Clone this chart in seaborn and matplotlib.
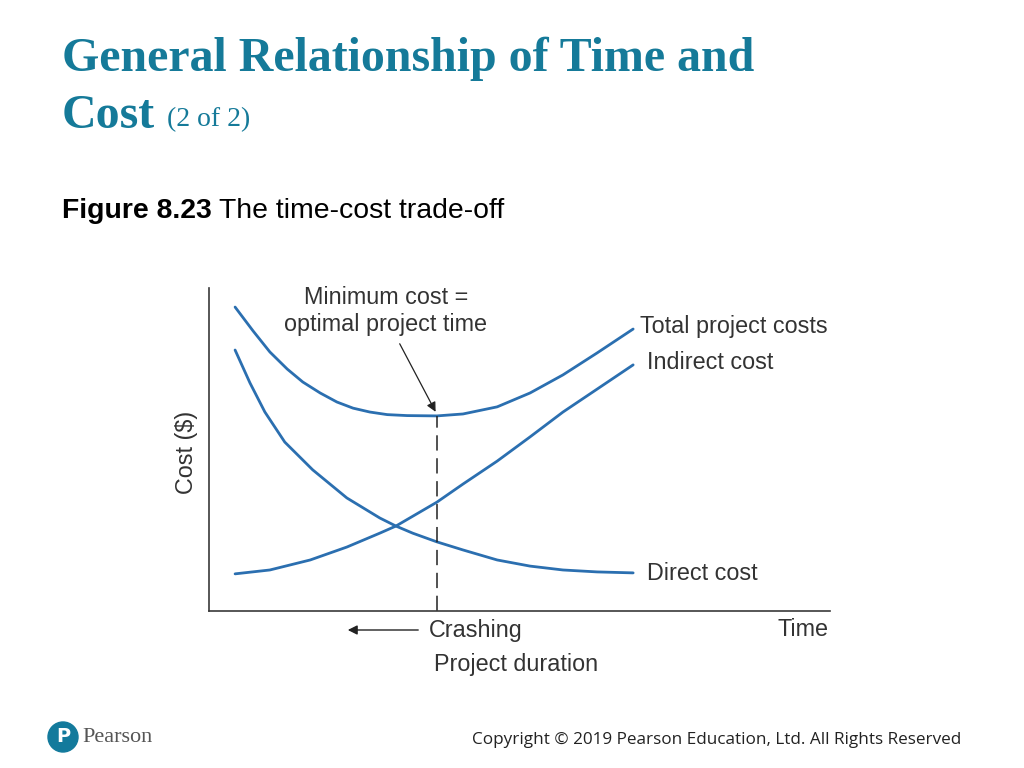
import numpy as np
import pandas as pd
import seaborn as sns
import matplotlib
matplotlib.use("Agg")
import matplotlib.pyplot as plt
from matplotlib.patches import Ellipse

# values (time 0-10, cost 0-10, arbitrary units)
total_time = [0.42, 0.71, 0.98, 1.26, 1.51, 1.79, 2.06, 2.32, 2.59, 2.87, 3.19, 3.67,
              4.09, 4.64, 5.17, 5.70, 6.25, 6.83]
total_cost = [9.41, 8.67, 8.02, 7.49, 7.09, 6.75, 6.47, 6.28, 6.16, 6.08, 6.05, 6.04,
              6.10, 6.32, 6.75, 7.31, 7.99, 8.73]
direct_time = [0.42, 0.66, 0.90, 1.22, 1.67, 2.22, 2.75, 3.01, 3.28, 3.67,
               4.09, 4.64, 5.17, 5.70, 6.25, 6.83]
direct_cost = [8.08, 7.06, 6.16, 5.23, 4.37, 3.50, 2.88, 2.63, 2.41, 2.14,
               1.89, 1.58, 1.39, 1.27, 1.21, 1.18]
indirect_time = [0.42, 0.98, 1.63, 2.22, 2.75, 3.01, 3.67, 4.09, 4.64, 5.17, 5.70, 6.25, 6.83]
indirect_cost = [1.15, 1.27, 1.58, 1.98, 2.41, 2.63, 3.37, 3.93, 4.64, 5.39, 6.16, 6.87, 7.62]
optimal_time = 3.67
optimal_cost = 6.04

df = pd.concat([
    pd.DataFrame({"time": total_time, "cost": total_cost, "series": "Total"}),
    pd.DataFrame({"time": indirect_time, "cost": indirect_cost, "series": "Indirect"}),
    pd.DataFrame({"time": direct_time, "cost": direct_cost, "series": "Direct"}),
], ignore_index=True)

sns.set_style("white")
plt.rcParams["font.family"] = ["Liberation Sans", "DejaVu Sans"]
serif = ["Liberation Serif", "DejaVu Serif"]

W, H = 1024, 768
fig = plt.figure(figsize=(W / 100, H / 100), dpi=100)


def fx(px):
    return px / W


def fy(py):
    return 1 - py / H


ax = fig.add_axes([fx(209), fy(611), fx(830) - fx(209), fy(288) - fy(611)])
blue = "#2b6fb0"
sns.lineplot(data=df, x="time", y="cost", units="series", estimator=None,
             color=blue, linewidth=2.0, ax=ax, sort=False,
             solid_joinstyle="round", solid_capstyle="round")
ax.set_xlim(0, 10)
ax.set_ylim(0, 10)
ax.set_xticks([])
ax.set_yticks([])
ax.set_xlabel("")
ax.set_ylabel("")
for s in ["top", "right"]:
    ax.spines[s].set_visible(False)
for s in ["left", "bottom"]:
    ax.spines[s].set_color("#3a3a3a")
    ax.spines[s].set_linewidth(1.2)

# dashed line at optimal time
ax.plot([optimal_time, optimal_time], [0, optimal_cost], color="#222222",
        linewidth=1.1, linestyle=(0, (10, 5)))

# annotation arrow
ax.annotate("", xy=(optimal_time, optimal_cost + 0.05), xytext=(3.05, 8.35),
            arrowprops=dict(arrowstyle="-|>", color="#222222", lw=0.9,
                            mutation_scale=14))

txt = dict(fontsize=16.8, color="#333333")
fig.text(fx(386), fy(297), "Minimum cost =", ha="center", va="center", **txt)
fig.text(fx(386), fy(324), "optimal project time", ha="center", va="center", **txt)
fig.text(fx(640), fy(327), "Total project costs", ha="left", va="center", **txt)
fig.text(fx(647), fy(362), "Indirect cost", ha="left", va="center", **txt)
fig.text(fx(647), fy(574), "Direct cost", ha="left", va="center", **txt)
fig.text(fx(429), fy(630), "Crashing", ha="left", va="center", **txt)
fig.text(fx(828), fy(630), "Time", ha="right", va="center", **txt)
fig.text(fx(434), fy(665), "Project duration", ha="left", va="center", **txt)
fig.text(fx(186), fy(452), "Cost ($)", ha="center", va="center", rotation=90, **txt)

fig.add_artist(plt.Annotation("", xy=(fx(345), fy(630)), xytext=(fx(421), fy(630)),
                              xycoords="figure fraction", textcoords="figure fraction",
                              arrowprops=dict(arrowstyle="-|>", color="#222222", lw=1.0,
                                              mutation_scale=14)))

# slide title
teal = "#157a99"
fig.text(fx(62), fy(59), "General Relationship of Time and", ha="left", va="center",
         family=serif, fontweight="bold", fontsize=34.5, color=teal)
cost_t = fig.text(fx(62), fy(116), "Cost", ha="left", va="center",
                  family=serif, fontweight="bold", fontsize=34.5, color=teal)
fig_t = fig.text(fx(62), fy(211), "Figure 8.23", ha="left", va="center",
                 fontweight="bold", fontsize=20.4, color="black")

fig.canvas.draw()
r = fig.canvas.get_renderer()
x_cost = cost_t.get_window_extent(r).x1
x_fig = fig_t.get_window_extent(r).x1

fig.text((x_cost + 12) / W, fy(120), "(2 of 2)", ha="left", va="center",
         family=serif, fontsize=20, color=teal)
fig.text((x_fig + 7) / W, fy(211), "The time-cost trade-off", ha="left", va="center",
         fontsize=20.4, color="black")

# footer
fig.add_artist(Ellipse((fx(63), fy(737)), 30 / W, 30 / H, color="#137a9c",
                       transform=fig.transFigure))
fig.text(fx(63), fy(737), "P", ha="center", va="center", color="white",
         fontweight="bold", fontsize=14, family=["DejaVu Sans"])
fig.text(fx(82), fy(737), "Pearson", ha="left", va="center", color="#555555",
         fontsize=16, family=serif)
fig.text(fx(961), fy(740), "Copyright \u00a9 2019 Pearson Education, Ltd. All Rights Reserved",
         ha="right", va="center", fontsize=12.3, color="#222222",
         family=["Open Sans", "DejaVu Sans"])

fig.savefig("out.png", dpi=100)
